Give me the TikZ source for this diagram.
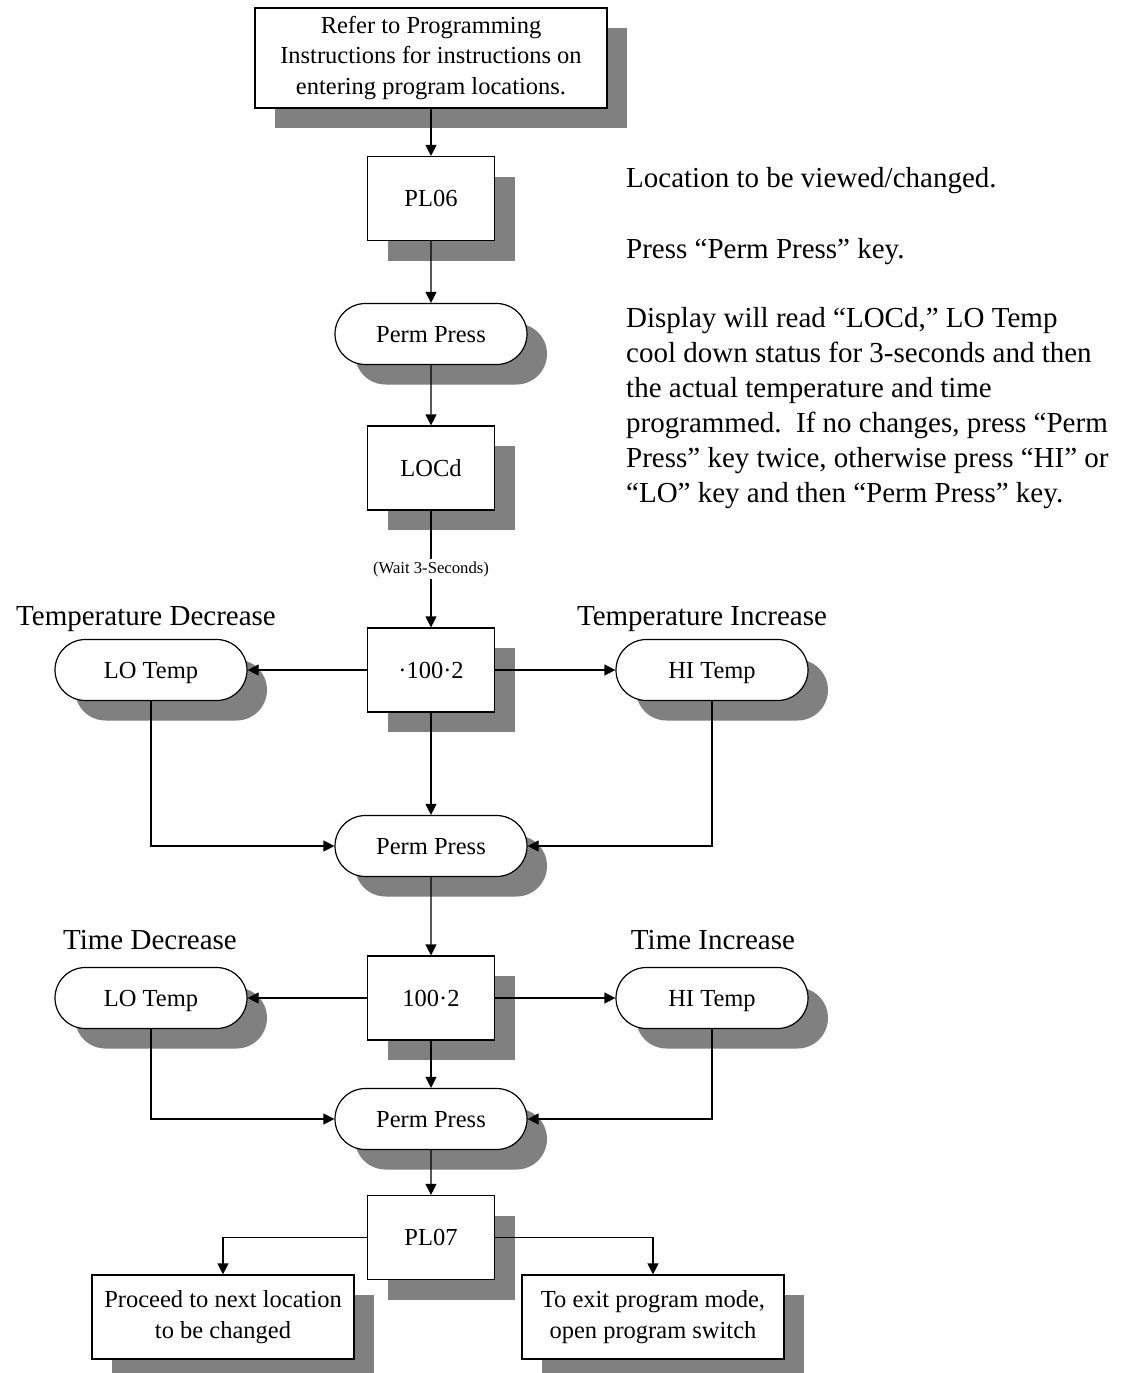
\documentclass[tikz,border=0pt]{standalone}
\usepackage{fontspec}
\setmainfont{Liberation Serif}
\usetikzlibrary{shapes.misc,shadows,arrows.meta}
\definecolor{shdc}{RGB}{128,128,128}
\begin{document}
\begin{tikzpicture}[x=1pt,y=-1pt,
  every node/.style={inner sep=0pt},
  shd/.style={drop shadow={shadow xshift=20pt,shadow yshift=-20pt,fill=shdc,opacity=1}},
  boxtxt/.style={font=\fontsize{24.5}{30.5}\selectfont},
  box/.style={draw,fill=white,line width=1.2pt,rectangle,shd,boxtxt,align=center,minimum width=127pt,minimum height=84pt},
  onel/.style={text depth=0pt},
  pill/.style={draw,fill=white,line width=1.2pt,rounded rectangle,minimum width=192pt,minimum height=61pt,shd,boxtxt,onel},
  head/.style={font=\fontsize{29}{35}\selectfont,anchor=base},
  note/.style={font=\fontsize{29}{35}\selectfont,anchor=base west},
  conn/.style={line width=1.2pt,-{Triangle[length=11pt,width=11pt]}}]
\useasboundingbox (0,0) rectangle (1138,1373);

% nodes
\node[box,minimum width=352pt,minimum height=100pt] (top) at (431,58)
  {Refer to Programming\\Instructions for instructions on\\entering program locations.};
\node[box,onel] (pl06) at (431,198.5) {PL06};
\node[pill] (pp1) at (431,334) {Perm Press};
\node[box,onel] (locd) at (431,468) {LOCd};
\node[box,onel] (v1) at (431,670) {·100·2};
\node[pill] (lo1) at (151,670) {LO Temp};
\node[pill] (hi1) at (712,670) {HI Temp};
\node[pill] (pp2) at (431,846) {Perm Press};
\node[box,onel] (v2) at (431,998) {100·2};
\node[pill] (lo2) at (151,998) {LO Temp};
\node[pill] (hi2) at (712,998) {HI Temp};
\node[pill] (pp3) at (431,1119) {Perm Press};
\node[box,onel] (pl07) at (431,1237.5) {PL07};
\node[box,minimum width=262pt,minimum height=84pt] (next) at (223,1317)
  {Proceed to next location\\to be changed};
\node[box,minimum width=262pt,minimum height=84pt] (exit) at (653,1317)
  {To exit program mode,\\open program switch};

% labels
\node[head] (tdec) at (146,625) {Temperature Decrease};
\node[head] (tinc) at (702,625) {Temperature Increase};
\node[head] (mdec) at (150,949) {Time Decrease};
\node[head] (minc) at (713,949) {Time Increase};

\node[note] (n1) at (626,187) {Location to be viewed/changed.};
\node[note] (n2) at (626,258) {Press “Perm Press” key.};
\node[note] (n3) at (626,327) {\renewcommand{\arraystretch}{1}\begin{tabular}[t]{@{}l@{}}%
Display will read “LOCd,” LO Temp\\
cool down status for 3-seconds and then\\
the actual temperature and time\\
programmed.\ \ If no changes, press “Perm\\
Press” key twice, otherwise press “HI” or\\
“LO” key and then “Perm Press” key.\end{tabular}};

% connectors
\draw[conn] (top) -- (pl06);
\draw[conn] (pl06) -- (pp1);
\draw[conn] (pp1) -- (locd);
\draw[conn] (locd) -- node[fill=white,inner sep=2pt,font=\fontsize{16.7}{20}\selectfont] (wait) {(Wait 3-Seconds)} (v1);
\draw[conn] (v1.west) -- (lo1.east);
\draw[conn] (v1.east) -- (hi1.west);
\draw[conn] (v1) -- (pp2);
\draw[conn] (lo1.south) |- (pp2.west);
\draw[conn] (hi1.south) |- (pp2.east);
\draw[conn] (pp2) -- (v2);
\draw[conn] (v2.west) -- (lo2.east);
\draw[conn] (v2.east) -- (hi2.west);
\draw[conn] (v2) -- (pp3);
\draw[conn] (lo2.south) |- (pp3.west);
\draw[conn] (hi2.south) |- (pp3.east);
\draw[conn] (pp3) -- (pl07);
\draw[conn] (pl07.west) -| (next.north);
\draw[conn] (pl07.east) -| (exit.north);
\end{tikzpicture}
\end{document}
